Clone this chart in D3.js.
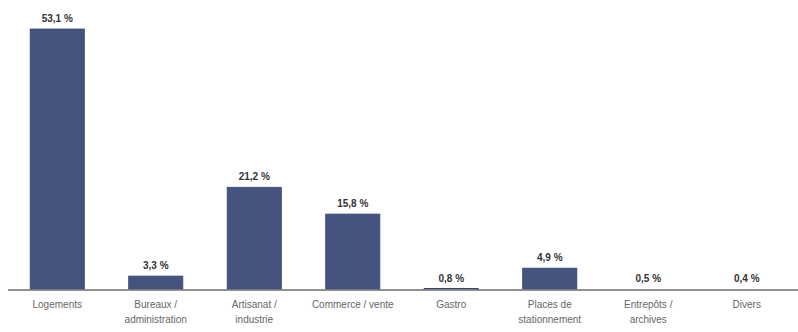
<!DOCTYPE html>
<html>
<head>
<meta charset="utf-8">
<script src="https://cdn.jsdelivr.net/npm/d3@7"></script>
<style>
  html, body { margin: 0; padding: 0; background: #fff; }
  svg { display: block; font-family: "Liberation Sans", Arial, sans-serif; }
</style>
</head>
<body>
<svg id="chart" width="798" height="332"></svg>
<script>
// Category labels (split into lines) and share values in percent
const categories = [
  ["Logements"],
  ["Bureaux /", "administration"],
  ["Artisanat /", "industrie"],
  ["Commerce / vente"],
  ["Gastro"],
  ["Places de", "stationnement"],
  ["Entrepôts /", "archives"],
  ["Divers"]
];
const values = [53.1, 3.3, 21.2, 15.8, 0.8, 4.9, 0.5, 0.4];
const valueLabels = ["53,1 %", "3,3 %", "21,2 %", "15,8 %", "0,8 %", "4,9 %", "0,5 %", "0,4 %"];

// Value axis starts slightly above zero, so the tiniest shares show no bar
const yDomain = [0.7, 53.1];

const svg = d3.select("#chart");
const baseY = 289;
const topY = 29;

const x = d3.scaleBand()
  .domain(d3.range(values.length))
  .range([8, 796])
  .paddingInner(0.45)
  .paddingOuter(0.225);

const y = d3.scaleLinear()
  .domain(yDomain)
  .range([baseY, topY])
  .clamp(true);

// Bars
svg.append("g")
  .selectAll("rect")
  .data(values)
  .join("rect")
  .attr("x", (d, i) => x(i))
  .attr("width", x.bandwidth())
  .attr("y", d => y(d))
  .attr("height", d => baseY - y(d))
  .attr("fill", "#45547f")
  .attr("stroke", "#3a4872")
  .attr("stroke-width", 0.8);

// Value labels above bars
svg.append("g")
  .selectAll("text")
  .data(values)
  .join("text")
  .attr("x", (d, i) => x(i) + x.bandwidth() / 2)
  .attr("y", d => y(d) - 7)
  .attr("text-anchor", "middle")
  .attr("font-size", 10)
  .attr("font-weight", "bold")
  .attr("fill", "#333")
  .text((d, i) => valueLabels[i]);

// Baseline axis
svg.append("line")
  .attr("x1", 8)
  .attr("x2", 798)
  .attr("y1", baseY + 1)
  .attr("y2", baseY + 1)
  .attr("stroke", "#6b6b6b")
  .attr("stroke-width", 1.5);

// Category labels below the axis
const catG = svg.append("g")
  .selectAll("text")
  .data(categories)
  .join("text")
  .attr("x", (d, i) => x(i) + x.bandwidth() / 2)
  .attr("y", 308)
  .attr("text-anchor", "middle")
  .attr("font-size", 10)
  .attr("fill", "#666");

catG.selectAll("tspan")
  .data(d => d)
  .join("tspan")
  .attr("x", function() { return d3.select(this.parentNode).attr("x"); })
  .attr("dy", (d, j) => j === 0 ? 0 : 15)
  .text(d => d);
</script>
</body>
</html>
